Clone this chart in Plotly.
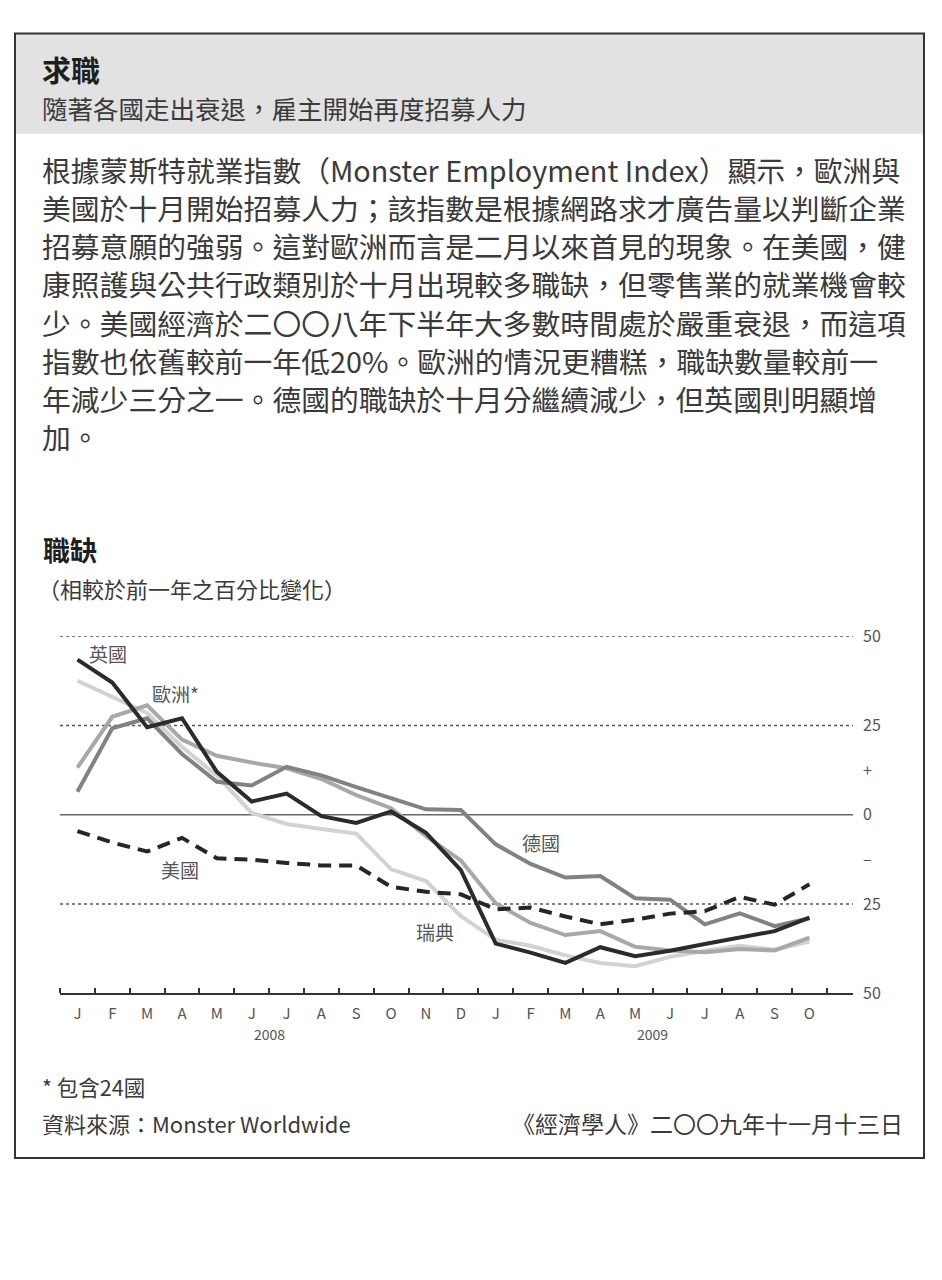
"""求職 / 職缺 chart: job vacancies, % change on a year earlier. Writes out.html."""
import plotly.graph_objects as go

W, H = 942, 1280
FONT = '"Noto Sans CJK TC", "Noto Sans", sans-serif'
INK = "#2b2b2b"
TEXT = "#3a3a3a"
MUTED = "#555555"
BAND = "#e2e2e2"

# ---- data ----
months = ["J", "F", "M", "A", "M", "J", "J", "A", "S", "O", "N", "D",
          "J", "F", "M", "A", "M", "J", "J", "A", "S", "O"]
years = ["2008", "2009"]
month_idx = list(range(len(months)))

uk = [43.4, 37.0, 24.5, 27.0, 12.0, 3.7, 5.9, -0.4, -2.3, 0.9, -5.1, -15.5,
      -36.1, -38.6, -41.5, -37.1, -39.6, -38.1, -36.2, -34.4, -32.6, -28.8]
europe = [13.2, 27.4, 30.6, 21.0, 16.5, 14.6, 13.0, 10.0, 5.5, 1.8, -6.0, -12.8,
          -24.8, -30.3, -33.7, -32.6, -37.0, -38.0, -38.5, -37.6, -38.0, -34.4]
germany = [6.4, 24.2, 27.0, 17.0, 9.2, 8.2, 13.4, 11.0, 7.7, 4.5, 1.5, 1.3,
           -8.3, -13.8, -17.6, -17.2, -23.4, -23.8, -30.7, -27.6, -31.2, -29.0]
sweden = [37.5, 33.0, 28.5, 19.0, 10.9, 0.5, -2.6, -4.0, -5.3, -15.3, -18.6, -28.4,
          -35.0, -36.7, -39.4, -41.5, -42.4, -39.8, -38.1, -36.7, -37.8, -35.5]
us = [-4.6, -7.8, -10.3, -6.5, -12.2, -12.6, -13.5, -14.2, -14.2, -20.2, -21.6, -22.3,
      -26.5, -26.0, -28.5, -30.7, -29.4, -27.7, -27.0, -23.0, -25.2, -19.5]

ytick_vals = [50, 25, 12.5, 0, -12.5, -25, -50]
ytick_text = ["50", "25", "+", "0", "–", "25", "50"]

title = "求職"
subtitle = "隨著各國走出衰退，雇主開始再度招募人力"
body_lines = [
    "根據蒙斯特就業指數（Monster Employment Index）顯示，歐洲與",
    "美國於十月開始招募人力；該指數是根據網路求才廣告量以判斷企業",
    "招募意願的強弱。這對歐洲而言是二月以來首見的現象。在美國，健",
    "康照護與公共行政類別於十月出現較多職缺，但零售業的就業機會較",
    "少。美國經濟於二〇〇八年下半年大多數時間處於嚴重衰退，而這項",
    "指數也依舊較前一年低20%。歐洲的情況更糟糕，職缺數量較前一",
    "年減少三分之一。德國的職缺於十月分繼續減少，但英國則明顯增",
    "加。",
]
chart_title = "職缺"
chart_subtitle = "（相較於前一年之百分比變化）"
footnote = "* 包含24國"
source = "資料來源：Monster Worldwide"
credit = "《經濟學人》二〇〇九年十一月十三日"


def px(x):
    return x / W


def py(y):
    return 1 - y / H


def text(x, y, s, size, color=TEXT, anchor="left", **kw):
    return dict(x=px(x), y=py(y), xref="paper", yref="paper", text=s, showarrow=False,
                xanchor=anchor, yanchor="middle", font=dict(family=FONT, size=size, color=color), **kw)


fig = go.Figure()

series = [
    ("瑞典", sweden, dict(color="#d2d2d2", width=4)),
    ("歐洲*", europe, dict(color="#a8a8a8", width=4)),
    ("德國", germany, dict(color="#828282", width=4)),
    ("美國", us, dict(color="#262626", width=4, dash="13px,8px")),
    ("英國", uk, dict(color=INK, width=4)),
]
for name, vals, line in series:
    fig.add_trace(go.Scatter(x=month_idx, y=vals, mode="lines", name=name,
                             line=dict(shape="linear", **line), showlegend=False,
                             hovertemplate="%{y:.1f}<extra>" + name + "</extra>"))

annotations = [
    text(40, 57, f"<b>{title}</b>", 29, color="#1e1e1e"),
    text(40, 96, subtitle, 25.5, color=TEXT),
]
for i, line in enumerate(body_lines):
    annotations.append(text(40, 159 + i * 39, line, 28.8, color=TEXT))
annotations += [
    text(41, 547, f"<b>{chart_title}</b>", 27, color="#1e1e1e"),
    text(36, 586, chart_subtitle, 22, color=TEXT),
    text(40, 1094, footnote, 21.5, color=TEXT),
    text(40, 1131, source, 22, color=TEXT),
    text(905, 1131, credit, 23, color=TEXT, anchor="right"),
    # series labels
    text(108, 653, "英國", 19, color=MUTED, anchor="center"),
    text(175, 693, "歐洲*", 19, color=MUTED, anchor="center"),
    text(541, 845, "德國", 19, color=MUTED, anchor="center"),
    text(180, 873, "美國", 19, color=MUTED, anchor="center"),
    text(435, 936, "瑞典", 19, color=MUTED, anchor="center"),
]
for x, yr in zip((5.5, 16.5), years):
    annotations.append(dict(x=x, y=py(1041), xref="x", yref="paper", text=yr, showarrow=False,
                            xanchor="center", yanchor="middle",
                            font=dict(family=FONT, size=14, color=MUTED)))

shapes = [
    dict(type="rect", xref="paper", yref="paper", x0=px(15), x1=px(924), y0=py(123), y1=py(21),
         fillcolor=BAND, line=dict(width=0), layer="below"),
    dict(type="rect", xref="paper", yref="paper", x0=px(15), x1=px(924), y0=py(1167), y1=py(21),
         fillcolor="rgba(0,0,0,0)", line=dict(color="#333333", width=2)),
]

fig.update_layout(
    width=W, height=H, autosize=False,
    margin=dict(l=0, r=0, t=0, b=0),
    paper_bgcolor="white", plot_bgcolor="white",
    font=dict(family=FONT, color=MUTED),
    annotations=annotations, shapes=shapes,
    showlegend=False,
)

# reference lines (added after the layout shapes so they are kept)
for v in (50, 25, -25):
    fig.add_hline(y=v, line=dict(color=MUTED, width=1.5, dash="dot"), layer="below")
fig.add_hline(y=0, line=dict(color="#666666", width=1.5), layer="below")

fig.update_xaxes(
    domain=[px(60), px(853)], range=[-0.5, 22.25],
    tickmode="array", tickvals=month_idx, ticktext=months, ticks="",
    tickfont=dict(family=FONT, size=15, color=MUTED), ticklabelstandoff=6,
    showgrid=False, zeroline=False,
    showline=True, linecolor="#333333", linewidth=2,
    minor=dict(ticks="inside", tick0=-0.5, dtick=1, ticklen=5, tickcolor="#333333",
               tickwidth=1.5, showgrid=False),
)
fig.update_yaxes(
    domain=[py(999), py(635)], range=[-50, 50], side="right",
    tickmode="array", tickvals=ytick_vals, ticktext=ytick_text, ticks="",
    tickfont=dict(family=FONT, size=16, color=MUTED), ticklabelstandoff=9,
    showgrid=False, zeroline=False, showline=False,
)

fig.write_html("out.html", config={"displayModeBar": False},
               post_script="document.body.style.margin='0';")
